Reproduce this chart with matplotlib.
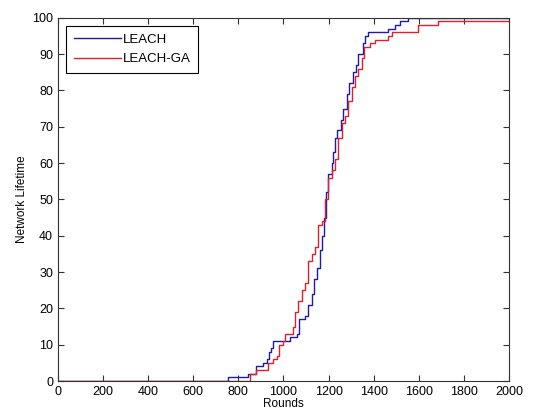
import matplotlib
matplotlib.use("Agg")
import matplotlib.pyplot as plt

plt.rcParams['font.family'] = ['Liberation Sans', 'DejaVu Sans']

leach_x = [0, 755, 795, 844, 878, 911, 925, 935, 945, 955, 1029, 1058, 1070, 1095, 1110, 1125, 1135, 1147,
           1162, 1170, 1180, 1188, 1199, 1213, 1221, 1228, 1238, 1253, 1265, 1280, 1292, 1309, 1321, 1331,
           1351, 1361, 1376, 1465, 1494, 1516, 1553, 2000]
leach_y = [0, 1, 1, 2, 4, 5, 6, 8, 9, 11, 12, 13, 17, 18, 21, 24, 28, 31,
           36, 40, 45, 52, 57, 60, 63, 67, 69, 72, 75, 79, 82, 85, 87, 90,
           93, 95, 96, 97, 98, 99, 100, 100]

ga_x = [0, 851, 878, 933, 955, 970, 981, 996, 1006, 1043, 1050, 1065, 1080, 1095, 1110, 1125, 1139, 1154,
        1169, 1183, 1198, 1213, 1228, 1243, 1258, 1273, 1287, 1302, 1317, 1331, 1346, 1356, 1383, 1405,
        1465, 1480, 1598, 1687, 2000]
ga_y = [0, 2, 3, 5, 6, 7, 10, 11, 13, 15, 19, 22, 25, 27, 33, 35, 37, 43,
        44, 50, 56, 58, 61, 67, 71, 73, 77, 81, 84, 86, 89, 92, 93, 94,
        95, 96, 98, 99, 99]

fig = plt.figure(figsize=(5.41, 4.17), dpi=100)
ax = fig.add_axes([0.107, 0.0863, 0.834, 0.871])
ax.step(leach_x, leach_y, where='post', color='#1c1ca8', lw=1.0, label='LEACH')
ax.step(ga_x, ga_y, where='post', color='#e0202c', lw=1.0, label='LEACH-GA')
ax.set_xlim(0, 2000)
ax.set_ylim(0, 100)
ax.set_xticks(range(0, 2001, 200))
ax.set_yticks(range(0, 101, 10))
ax.tick_params(direction='in', top=True, right=True, labelsize=9, length=4, color='#333333')
for s in ax.spines.values():
    s.set_color('#333333')
ax.set_xlabel('Rounds', fontsize=8.5, labelpad=0)
ax.set_ylabel('Network Lifetime', fontsize=8.5, labelpad=3)
leg = ax.legend(loc='upper left', fontsize=9.5, fancybox=False, edgecolor='black',
                framealpha=1, borderaxespad=0.6, borderpad=0.6, handlelength=3.6,
                labelspacing=0.55, handletextpad=0.1)
leg.get_frame().set_linewidth(0.8)
fig.savefig('out.png', dpi=100)
